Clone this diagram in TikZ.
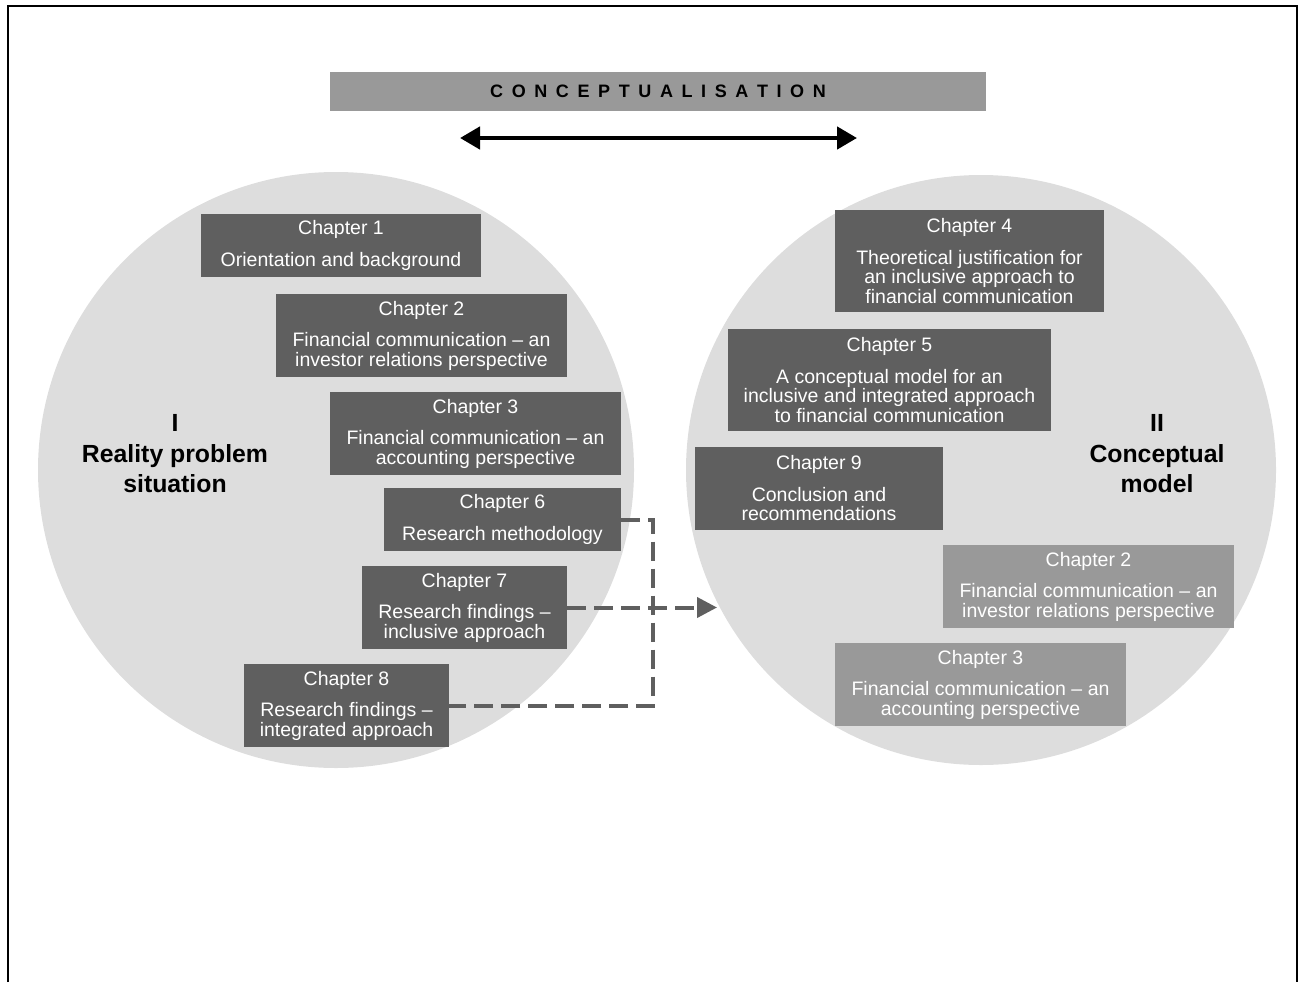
\documentclass[tikz,border=0pt]{standalone}
\usepackage{fontspec}
\setmainfont{Liberation Sans}
\usepackage{tikz}
\usetikzlibrary{positioning,arrows.meta,calc}
\usepackage{xcolor}
\definecolor{boxdark}{HTML}{5F5F5F}
\definecolor{boxlight}{HTML}{999999}
\definecolor{disc}{HTML}{DDDDDD}

\begin{document}
\begin{tikzpicture}[x=1pt,y=-1pt,
  chap/.style={fill=boxdark,text=white,align=center,inner sep=0pt,font=\fontsize{19.5}{19.5}\selectfont,execute at begin node={\rule{0pt}{18pt}}},
  chapl/.style={chap,fill=boxlight},
  side/.style={align=center,font=\fontsize{24.8}{30.5}\selectfont\bfseries},
  link/.style={draw=boxdark,line width=4pt,dash pattern=on 19pt off 8pt}]
\useasboundingbox (0,0) rectangle (1300,982);
\draw[line width=2.5pt] (8,982) -- (8,6) -- (1297,6) -- (1297,982);
\node[fill=boxlight,minimum width=656,minimum height=39,font=\fontsize{18}{18}\selectfont\bfseries] (concept) at (658,91.5) {\spaceskip=8.6pt C O N C E P T U A L I S A T I O N};
\coordinate (al) at (460,138);
\coordinate (ar) at (857,138);
\draw[line width=4.5pt,{Triangle[length=20pt,width=22pt]}-{Triangle[length=20pt,width=22pt]}] (al) -- (ar);
\node[circle,fill=disc,minimum size=596,inner sep=0pt] (left) at (336,470) {};
\node[circle,fill=disc,minimum size=590,inner sep=0pt] (right) at (981,470) {};
\node[side] (real) at (175,454) {I\\Reality problem\\situation};
\node[side] (conc) at (1157,454) {II\\Conceptual\\model};
\node[chap,minimum width=280,minimum height=63] (c1) at (341,245.5) {Chapter 1\\[12pt]Orientation and background};
\node[chap,minimum width=291,minimum height=83] (c2) at (421.5,335.5) {Chapter 2\\[12pt]Financial communication -- an\\investor relations perspective};
\node[chap,minimum width=291,minimum height=83] (c3) at (475.5,433.5) {Chapter 3\\[12pt]Financial communication -- an\\accounting perspective};
\node[chap,minimum width=237,minimum height=63] (c6) at (502.5,519.5) {Chapter 6\\[12pt]Research methodology};
\node[chap,minimum width=205,minimum height=83] (c7) at (464.5,607.5) {Chapter 7\\[12pt]Research findings --\\inclusive approach};
\node[chap,minimum width=205,minimum height=83] (c8) at (346.5,705.5) {Chapter 8\\[12pt]Research findings --\\integrated approach};
\node[chap,minimum width=269,minimum height=102] (c4) at (969.5,261) {Chapter 4\\[12pt]Theoretical justification for\\an inclusive approach to\\financial communication};
\node[chap,minimum width=323,minimum height=102] (c5) at (889.5,380) {Chapter 5\\[12pt]A conceptual model for an\\inclusive and integrated approach\\to financial communication};
\node[chap,minimum width=248,minimum height=83] (c9) at (819,488.5) {Chapter 9\\[12pt]Conclusion and\\recommendations};
\node[chapl,minimum width=291,minimum height=83] (c2b) at (1088.5,586.5) {Chapter 2\\[12pt]Financial communication -- an\\investor relations perspective};
\node[chapl,minimum width=291,minimum height=83] (c3b) at (980.5,684.5) {Chapter 3\\[12pt]Financial communication -- an\\accounting perspective};
\coordinate (tip) at (717,607.5);
\draw[link] (c6.east) -- ++(32,0) |- (c8.east);
\draw[link,-{Triangle[length=20pt,width=20pt]}] (c7.east) -- (tip);
\end{tikzpicture}
\end{document}
